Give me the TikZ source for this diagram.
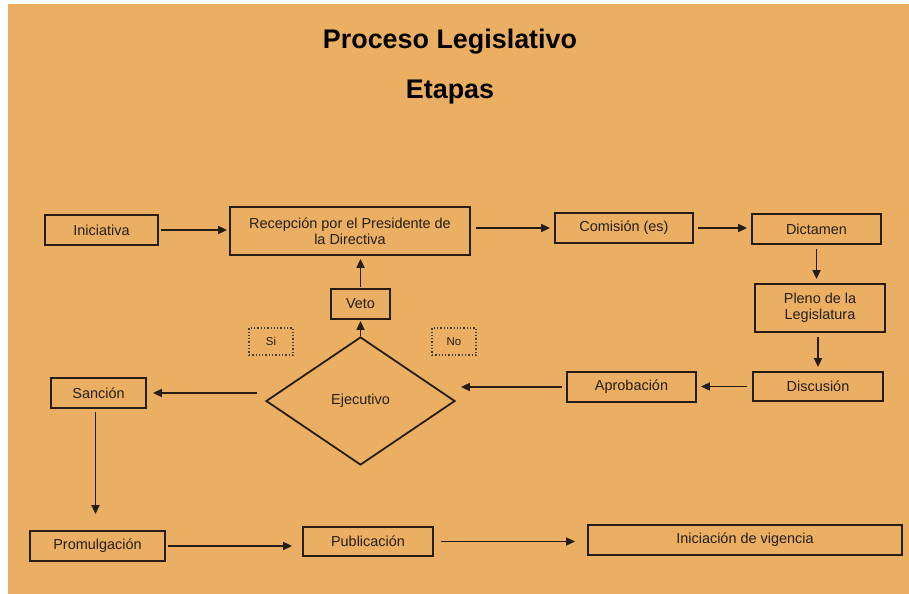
\documentclass[tikz,border=0pt]{standalone}
\usepackage{fontspec}
\setmainfont{Liberation Sans}
\usetikzlibrary{shapes.geometric,arrows.meta}
\definecolor{fondo}{RGB}{235,175,99}
\definecolor{linea}{RGB}{38,30,22}

\begin{document}
\begin{tikzpicture}[x=1bp,y=-1bp,
  caja/.style={draw=linea,line width=1.8bp,inner sep=0pt,text=linea,font=\fontsize{14.5}{16}\selectfont},
  flecha/.style={draw=linea,line width=1.7bp,-{Triangle[length=9bp,width=8bp]}},
  opcion/.style={draw=linea!85,dotted,line width=1.3bp,inner sep=0pt,minimum width=44bp,minimum height=27bp,text=linea,font=\fontsize{11.5}{12}\selectfont}]

%Fondo
\useasboundingbox (0,0) rectangle (909,594);
\fill[white] (0,0) rectangle (909,594);
\fill[fondo] (8,4) rectangle (909,594);

%Titulo
\node[font=\bfseries\fontsize{27}{30}\selectfont] (titulo) at (450,42) {Proceso Legislativo};
\node[font=\bfseries\fontsize{27}{30}\selectfont] (etapas) at (450,92) {Etapas};

%Etapas
\node[caja,minimum width=113bp,minimum height=30bp] (ini) at (101.5,230) {Iniciativa};
\node[caja,minimum width=240bp,minimum height=48bp,align=center] (recep) at (350,231) {Recepción por el Presidente de\\la Directiva};
\node[caja,minimum width=138bp,minimum height=30bp] (comis) at (624,228) {Comisión (es)};
\node[caja,minimum width=129bp,minimum height=30bp] (dict) at (816.5,229) {Dictamen};
\node[caja,minimum width=130bp,minimum height=48bp,align=center] (pleno) at (820,308) {Pleno de la\\Legislatura};
\node[caja,minimum width=130bp,minimum height=29bp] (disc) at (818,386.5) {Discusión};
\node[caja,minimum width=129bp,minimum height=30bp] (aprob) at (631.5,387) {Aprobación};
\node[caja,diamond,minimum width=189bp,minimum height=128bp] (ejec) at (360.5,401) {Ejecutivo};
\node[caja,minimum width=59bp,minimum height=30bp] (veto) at (360.5,304) {Veto};
\node[opcion] (si) at (271,341.5) {Si};
\node[opcion] (no) at (454,341.5) {No};
\node[caja,minimum width=95bp,minimum height=30bp] (sancion) at (98.5,393) {Sanción};
\node[caja,minimum width=135bp,minimum height=30bp] (promul) at (97.5,546) {Promulgación};
\node[caja,minimum width=130bp,minimum height=29bp] (public) at (368,541.5) {Publicación};
\node[caja,minimum width=314bp,minimum height=30bp] (vigencia) at (745,540) {Iniciación de vigencia};

%Flechas
\draw[flecha,shorten <=2bp,shorten >=2bp] (ini.east) -- (ini.east -| recep.west);
\draw[flecha,shorten <=5bp,shorten >=4bp] (recep.east |- comis.west) -- (comis.west);
\draw[flecha,shorten <=4bp,shorten >=4bp] (comis.east) -- (comis.east -| dict.west);
\draw[flecha,shorten <=4bp,shorten >=4bp] (dict.south) -- (dict.south |- pleno.north);
\draw[flecha,shorten <=4bp,shorten >=4bp] (pleno.south -| disc.north) -- (disc.north);
\draw[flecha,shorten <=5bp,shorten >=4bp] (disc.west) -- (disc.west -| aprob.east);
\draw[flecha,shorten <=4bp,shorten >=5bp] (aprob.west) -- (aprob.west -| ejec.east);
\draw[flecha,shorten >=1bp] (ejec.north) -- (veto.south);
\draw[flecha,shorten <=1bp,shorten >=3bp] (veto.north) -- (veto.north |- recep.south);
\draw[flecha,shorten <=8bp,shorten >=6bp] (ejec.west |- sancion.east) -- (sancion.east);
\draw[flecha,shorten <=3bp,shorten >=16bp] ([xshift=-3bp]sancion.south) -- ([xshift=-3bp]sancion.south |- promul.north);
\draw[flecha,shorten <=2bp,shorten >=10bp] (promul.east) -- (promul.east -| public.west);
\draw[flecha,shorten <=7bp,shorten >=12bp] (public.east) -- (public.east -| vigencia.west);
\end{tikzpicture}
\end{document}
